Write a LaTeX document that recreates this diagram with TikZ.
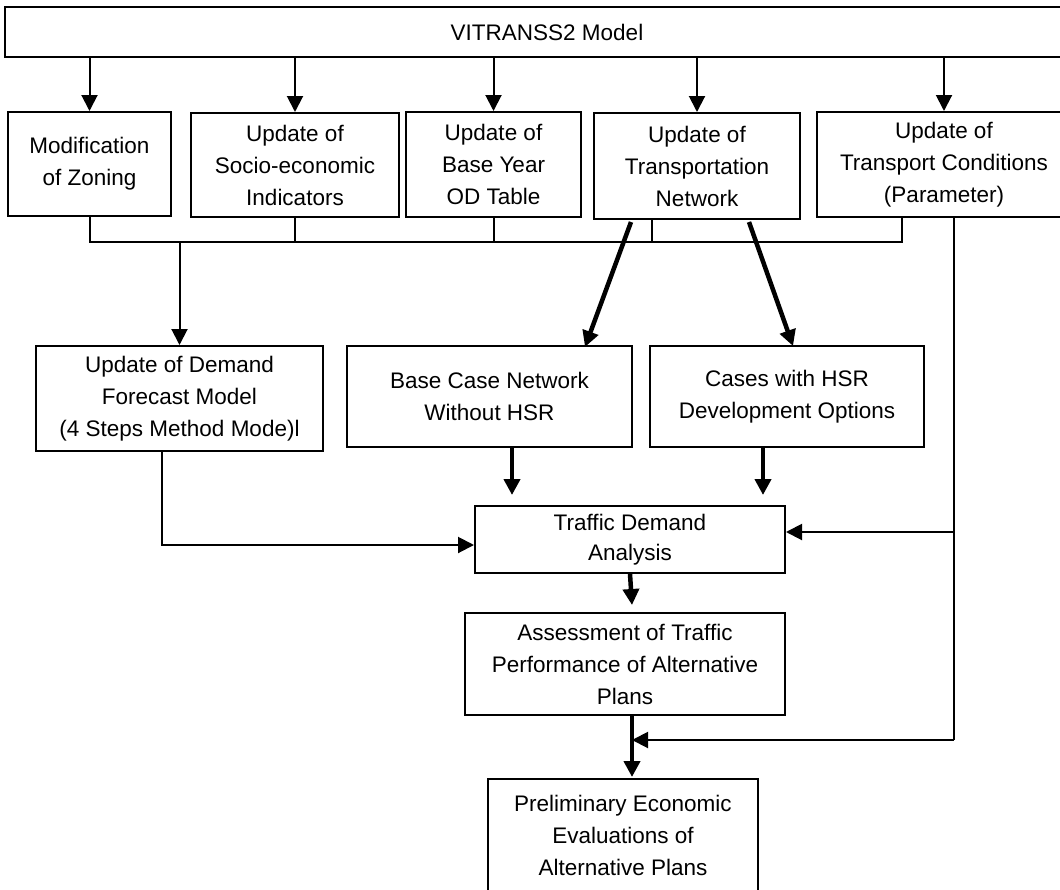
\documentclass[tikz,border=0pt]{standalone}
\usepackage{fontspec}
\setmainfont{Liberation Sans}
\usetikzlibrary{arrows.meta}

\begin{document}
\begin{tikzpicture}[x=1pt,y=-1pt,
	box/.style={draw,line width=2pt,inner sep=0pt,align=center,font=\fontsize{22.5}{32}\selectfont},
	thin/.style={line width=2pt},
	fat/.style={line width=4.5pt},
	tip/.style={-{Triangle[width=16pt,length=16pt]}}]
			\useasboundingbox (0,0) rectangle (1060,889);
			\node[box,minimum width=1084pt,minimum height=50pt] (vitranss) at (547,32) {VITRANSS2 Model};
			\node[box,minimum width=163pt,minimum height=104pt] (zoning) at (89.5,164) {Modification\\of Zoning};
			\node[box,minimum width=208pt,minimum height=104pt] (socio) at (295,165) {Update of\\Socio-economic\\Indicators};
			\node[box,minimum width=175pt,minimum height=105pt] (base) at (493.5,164.5) {Update of\\Base Year\\OD Table};
			\node[box,minimum width=206pt,minimum height=106pt] (transnet) at (697,166) {Update of\\Transportation\\Network};
			\node[box,minimum width=254pt,minimum height=105pt] (cond) at (944,164.5) {Update of\\Transport Conditions\\(Parameter)};
			\node[box,minimum width=287pt,minimum height=105pt] (demand) at (179.5,398.5) {Update of Demand\\Forecast Model\\(4 Steps Method Mode)l};
			\node[box,minimum width=285pt,minimum height=101pt] (basecase) at (489.5,396.5) {Base Case Network\\Without HSR};
			\node[box,minimum width=274pt,minimum height=101pt] (hsr) at (787,396.5) {Cases with HSR\\Development Options};
			\node[box,minimum width=310pt,minimum height=67pt,font=\fontsize{22.5}{30}\selectfont] (traffic) at (630,539.5) {Traffic Demand\\Analysis};
			\node[box,minimum width=320pt,minimum height=102pt] (assess) at (625,664) {Assessment of Traffic\\Performance of Alternative\\Plans};
			\node[box,minimum width=270pt,minimum height=113pt] (prelim) at (623,835.5) {Preliminary Economic\\Evaluations of\\Alternative Plans};
			\foreach \n in {zoning,socio,base,transnet,cond}
			\draw[thin,tip] (vitranss.south -| \n.north) -- (\n.north);
			\coordinate (busR) at (902,242);
			\coordinate (netDrop) at (652,242);
			\draw[thin] (zoning.south) |- (busR) -- (busR |- cond.south);
			\foreach \n in {socio,base}
			\draw[thin] (\n.south) -- (\n.south |- busR);
			\draw[thin] (netDrop) -- (netDrop |- transnet.south);
			\draw[thin,tip] (demand.north |- busR) -- (demand.north);
			\coordinate (netL) at (631,222);
			\coordinate (netR) at (749,222);
			\coordinate (caseL) at (585,347);
			\coordinate (caseR) at (793,346);
			\draw[fat,tip] (netL) -- (caseL);
			\draw[fat,tip] (netR) -- (caseR);
			\coordinate (trafInL) at (512,495);
			\coordinate (trafInR) at (763,495);
			\draw[fat,tip] (basecase.south -| trafInL) -- (trafInL);
			\draw[fat,tip] (hsr.south -| trafInR) -- (trafInR);
			\coordinate (demandOut) at (162,545);
			\draw[thin,tip] (demand.south -| demandOut) |- (traffic.west |- demandOut);
			\coordinate (feedA) at (954,532);
			\coordinate (feedB) at (954,740);
			\coordinate (assessIn) at (632,605);
			\coordinate (prelimIn) at (632,777);
			\draw[thin] (cond.south -| feedA) -- (feedB);
			\draw[thin,tip] (feedA) -- (feedA -| traffic.east);
			\draw[fat,tip] (traffic.south) -- (assessIn);
			\draw[fat,tip] (assessIn |- assess.south) -- (prelimIn);
			\draw[thin,tip] (feedB) -- (feedB -| prelimIn);
\end{tikzpicture}
\end{document}
